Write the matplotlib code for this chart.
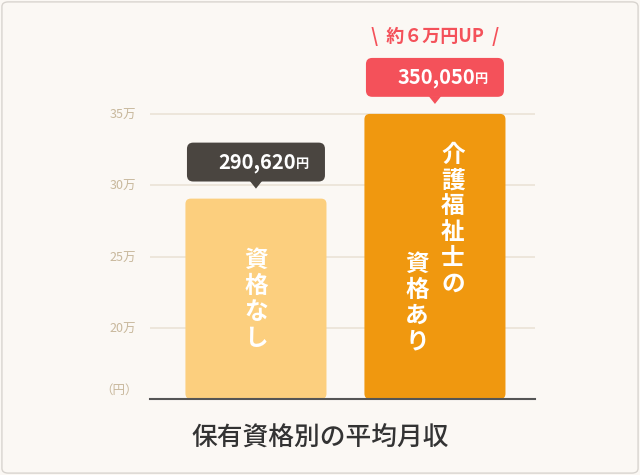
import matplotlib.pyplot as plt
from matplotlib.patches import FancyBboxPatch, Polygon

plt.rcParams['font.family'] = ['Noto Sans CJK JP', 'DejaVu Sans']

categories = ['資格なし', '介護福祉士の資格あり']
values = [29.062, 35.005]          # 万円
labels = ['290,620', '350,050']
yticks = [20, 25, 30, 35]
ytick_labels = ['20万', '25万', '30万', '35万']

fig = plt.figure(figsize=(6.4, 4.75), dpi=100)
fig.patch.set_facecolor('#fbf8f4')
fig.patches.append(FancyBboxPatch((0.003, 0.004), 0.994, 0.992, boxstyle='round,pad=0,rounding_size=0.01',
                                  transform=fig.transFigure, fc='none', ec='#d8d4cf', lw=1))
ax = fig.add_axes([150/640, 0.16, 385/640, 0.63])
ax.set_facecolor('none')
ax.set_xlim(-0.592, 1.559)
ax.set_ylim(15, 36)
for s in ax.spines.values():
    s.set_visible(False)
ax.spines['bottom'].set_visible(True)
ax.spines['bottom'].set_color('#555555')
ax.spines['bottom'].set_linewidth(1.5)
ax.set_xticks([])
ax.set_yticks(yticks)
ax.set_yticklabels(ytick_labels, color='#c8b89c', fontsize=9)
ax.tick_params(axis='y', length=0, pad=10)
for t in yticks:
    ax.axhline(t, color='#ebe3d6', lw=1.2, zorder=0)
ax.text(-0.66, 15.6, '（円）', ha='right', va='center', color='#c8b89c', fontsize=9)

colors = ['#fccf7e', '#f0980f']
box_colors = ['#4a4540', '#f4515a']
w = 0.788
asp = 12.5   # data-y per data-x at equal pixels
for i, (v, c) in enumerate(zip(values, colors)):
    ax.add_patch(FancyBboxPatch((i - w/2, 15), w, v - 15, boxstyle='round,pad=0,rounding_size=0.03',
                                mutation_aspect=asp, fc=c, ec='none', zorder=2))
    # callout
    by = v + 1.2
    bw = 0.771
    ax.add_patch(FancyBboxPatch((i - bw/2, by), bw, 2.73, boxstyle='round,pad=0,rounding_size=0.035',
                                mutation_aspect=asp, fc=box_colors[i], ec='none', zorder=3, clip_on=False))
    ax.add_patch(Polygon([(i - 0.035, by + 0.05), (i + 0.035, by + 0.05), (i, by - 0.5)],
                         fc=box_colors[i], ec='none', zorder=3, clip_on=False))
    ax.text(i + 0.225, by + 1.33, labels[i], ha='right', va='center', color='white',
            fontsize=14.5, fontweight='bold', zorder=4, clip_on=False)
    ax.text(i + 0.225, by + 1.22, '円', ha='left', va='center', color='white',
            fontsize=9.5, fontweight='bold', zorder=4, clip_on=False)

ax.text(1, values[1] + 5.45, '\\  約６万円UP  /', ha='center', va='center', color='#f4515a',
        fontsize=13, fontweight='bold', clip_on=False)

# vertical text inside bars
ax.text(0, 22.0, '\n'.join('資格なし'), ha='center', va='center', color='white',
        fontsize=17, fontweight='bold', linespacing=1.1, zorder=4)
ax.text(1.1, 33.0, '\n'.join('介護福祉士の'), ha='center', va='top', color='white',
        fontsize=17, fontweight='bold', linespacing=1.1, zorder=4)
ax.text(0.9, 25.3, '\n'.join('資格あり'), ha='center', va='top', color='white',
        fontsize=17, fontweight='bold', linespacing=1.1, zorder=4)

fig.text(0.5, 1 - 438/475, '保有資格別の平均月収', ha='center', va='center', color='#333333',
         fontsize=18.5, fontweight='medium')

fig.savefig('out.png', dpi=100, facecolor=fig.get_facecolor())
